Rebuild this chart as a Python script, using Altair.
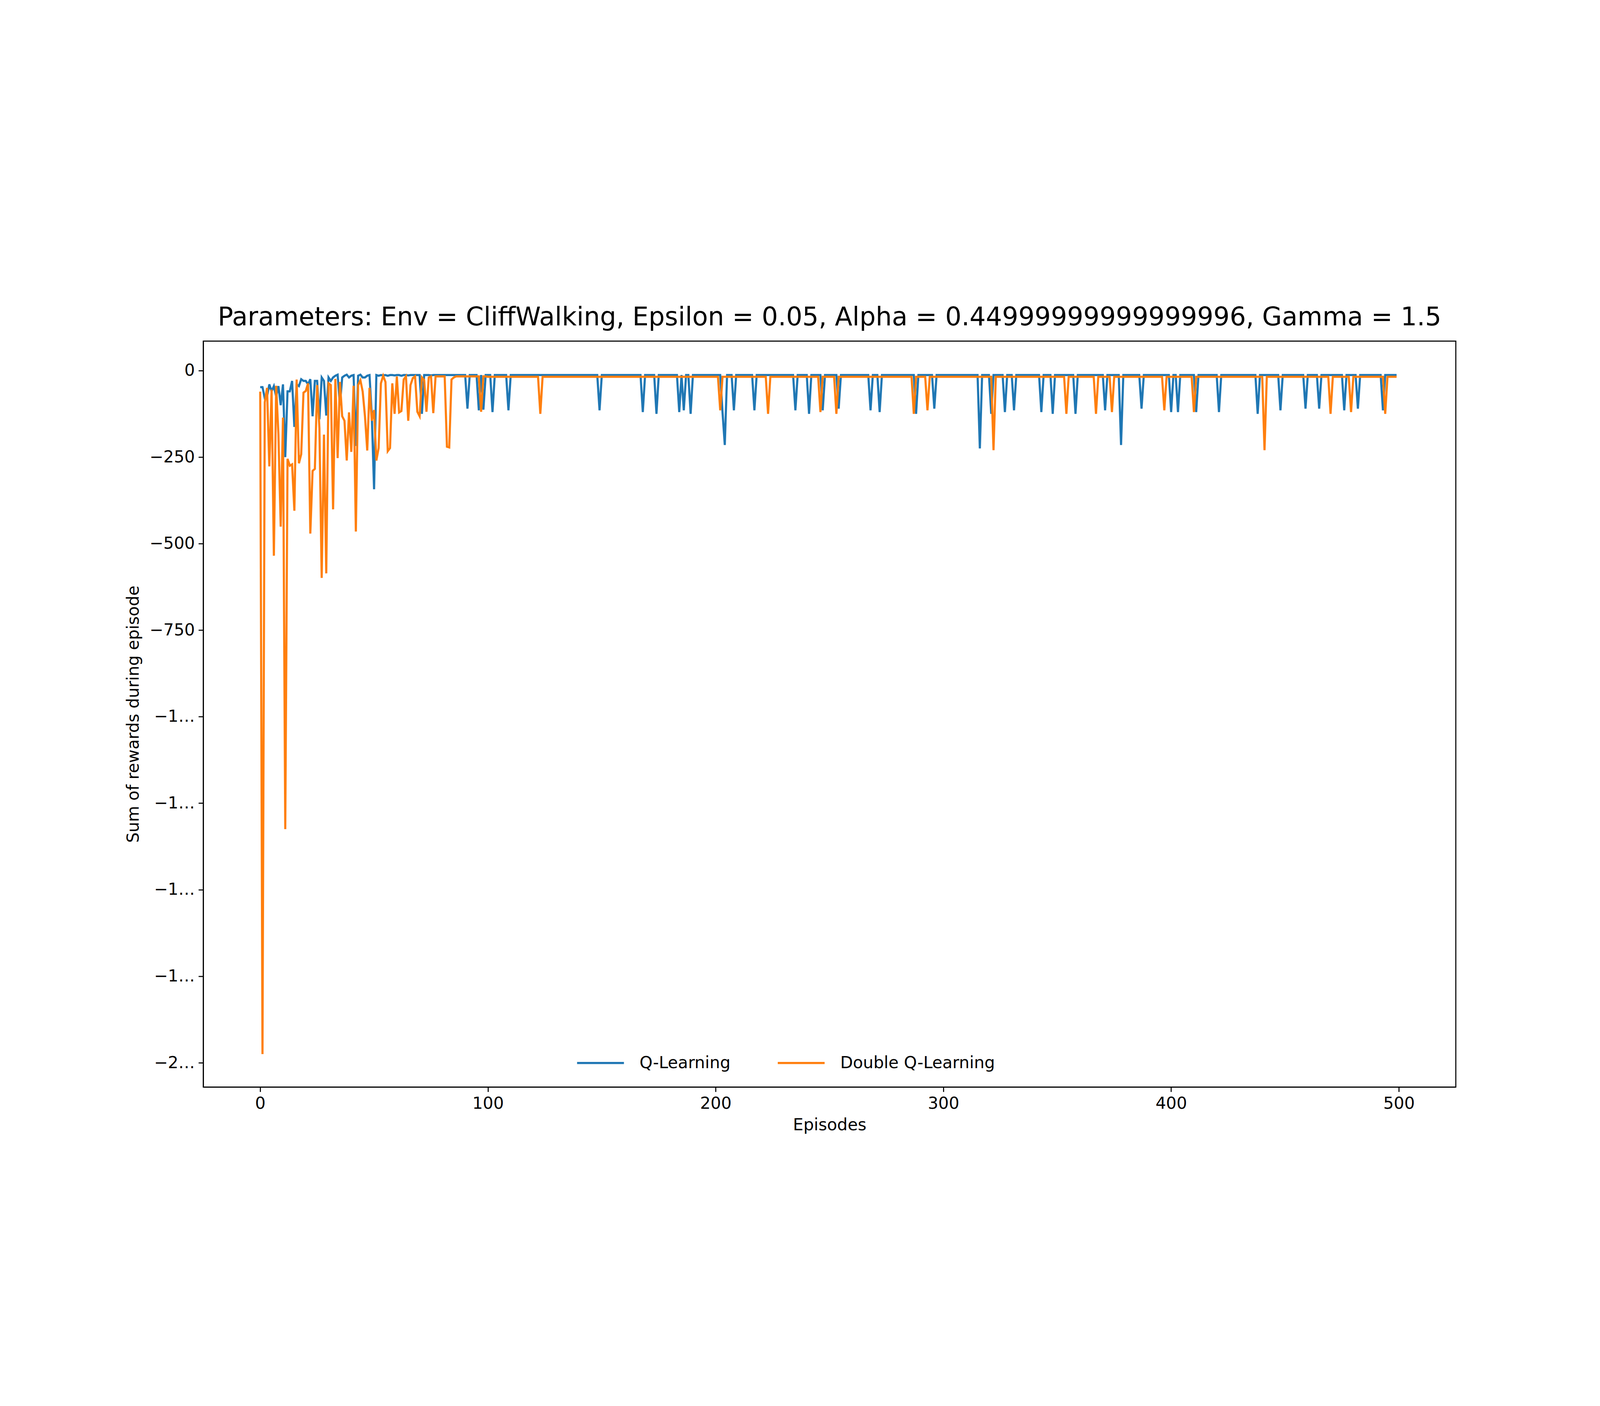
import altair as alt
import pandas as pd

N = 500
Q_BASE = -13
DQ_BASE = -18

q_early = [-48, -48, -80, -75, -40, -60, -45, -75, -45, -100, -40, -250, -60, -60, -30, -163,
           -40, -45, -25, -30, -30, -40, -25, -132, -30, -30, -141, -20, -30, -130, -20, -30,
           -20, -15, -12, -100, -20, -15, -12, -20, -15, -13, -218, -15, -12, -20, -20, -15,
           -13, -130, -343, -13, -15, -13, -14, -13, -15, -13, -13, -14, -13, -13, -15, -13,
           -13, -14, -13, -13, -13, -13, -13, -125, -13, -13, -13, -14, -13, -13, -13, -13,
           -13, -13, -13, -13, -13, -13, -13, -13, -13, -13, -13, -110, -13, -13, -13, -13,
           -115, -13, -113, -13, -13, -13, -120]
q_spike_ep = [109, 149, 168, 174, 184, 186, 189, 203, 204, 208, 217, 235, 241, 247, 254, 268, 272,
              288, 296, 316, 321, 327, 331, 343, 348, 358, 371, 378, 387, 400, 403, 411, 421, 438,
              448, 459, 465, 476, 482, 493]
q_spike_val = [-115, -115, -120, -125, -120, -115, -125, -120, -215, -115, -115, -115, -125, -115,
               -110, -115, -120, -125, -110, -225, -125, -120, -115, -120, -125, -125, -115, -215,
               -110, -120, -120, -120, -120, -125, -115, -110, -110, -115, -110, -115]

dq_early = [-61, -1975, -92, -50, -277, -55, -535, -44, -185, -451, -136, -1325, -255, -275, -271,
            -405, -26, -268, -242, -64, -59, -37, -471, -290, -284, -42, -167, -599, -185, -586,
            -37, -42, -401, -24, -253, -33, -132, -145, -260, -121, -235, -44, -465, -42, -28,
            -61, -132, -231, -50, -145, -114, -260, -224, -37, -15, -33, -233, -224, -37, -125,
            -17, -121, -117, -26, -17, -145, -42, -22, -17, -119, -132, -20, -28, -119, -20, -17,
            -123, -17, -17, -17, -17, -17, -220, -222, -26, -20, -17, -17, -17, -17, -17, -17,
            -17, -17, -17, -17, -17, -119, -17, -17]
dq_spike_ep = [123, 202, 223, 246, 253, 287, 293, 322, 354, 367, 374, 397, 410, 441, 470, 479, 494]
dq_spike_val = [-125, -115, -125, -120, -125, -125, -115, -230, -125, -125, -120, -115, -120, -230,
                -125, -120, -125]


def series(early, base, spike_ep, spike_val):
    vals = list(early) + [base] * (N - len(early))
    for e, v in zip(spike_ep, spike_val):
        vals[e] = v
    return vals


q = series(q_early, Q_BASE, q_spike_ep, q_spike_val)
dq = series(dq_early, DQ_BASE, dq_spike_ep, dq_spike_val)

df = pd.DataFrame({
    "episode": list(range(N)) * 2,
    "reward": q + dq,
    "series": ["Q-Learning"] * N + ["Double Q-Learning"] * N,
    "order": [0] * N + [1] * N,
})

FS = 62
chart = alt.Chart(df).mark_line(strokeWidth=8, clip=True).encode(
    x=alt.X("episode:Q", title="Episodes",
            scale=alt.Scale(domain=[-25, 525], nice=False, zero=False),
            axis=alt.Axis(values=[0, 100, 200, 300, 400, 500], grid=False)),
    y=alt.Y("reward:Q", title="Sum of rewards during episode",
            scale=alt.Scale(domain=[-2070, 85], nice=False, zero=False),
            axis=alt.Axis(values=[0, -250, -500, -750, -1000, -1250, -1500, -1750, -2000],
                          grid=False, format="d")),
    color=alt.Color("series:N", title=None,
                    scale=alt.Scale(domain=["Q-Learning", "Double Q-Learning"],
                                    range=["#1f77b4", "#ff7f0e"]),
                    legend=alt.Legend(orient="none", legendX=1400, legendY=2620,
                                      direction="horizontal", symbolType="stroke",
                                      symbolSize=31000, symbolStrokeWidth=8,
                                      labelFontSize=FS, columnPadding=160, labelOffset=54,
                                      labelLimit=0, labelFont="DejaVu Sans")),
    detail="series:N",
    order="order:Q",
).properties(
    width=4706, height=2803,
    title=alt.TitleParams("Parameters: Env = CliffWalking, Epsilon = 0.05, Alpha = 0.44999999999999996, Gamma = 1.5",
                          fontSize=96, font="DejaVu Sans", fontWeight="normal", offset=40),
    autosize=alt.AutoSizeParams(type="none"),
    padding={"left": 752, "top": 430, "right": 530, "bottom": 360},
).configure_view(stroke="black", strokeWidth=4).configure_axis(
    labelFontSize=FS, titleFontSize=FS, labelFont="DejaVu Sans", titleFont="DejaVu Sans",
    titleFontWeight="normal", domainColor="black", domainWidth=4, tickColor="black",
    tickWidth=4, tickSize=18, labelColor="black", titleColor="black", labelPadding=14,
).configure_axisY(titlePadding=30).configure_axisX(titlePadding=20)

chart.save("out.html", embed_options={"renderer": "svg", "actions": False})
